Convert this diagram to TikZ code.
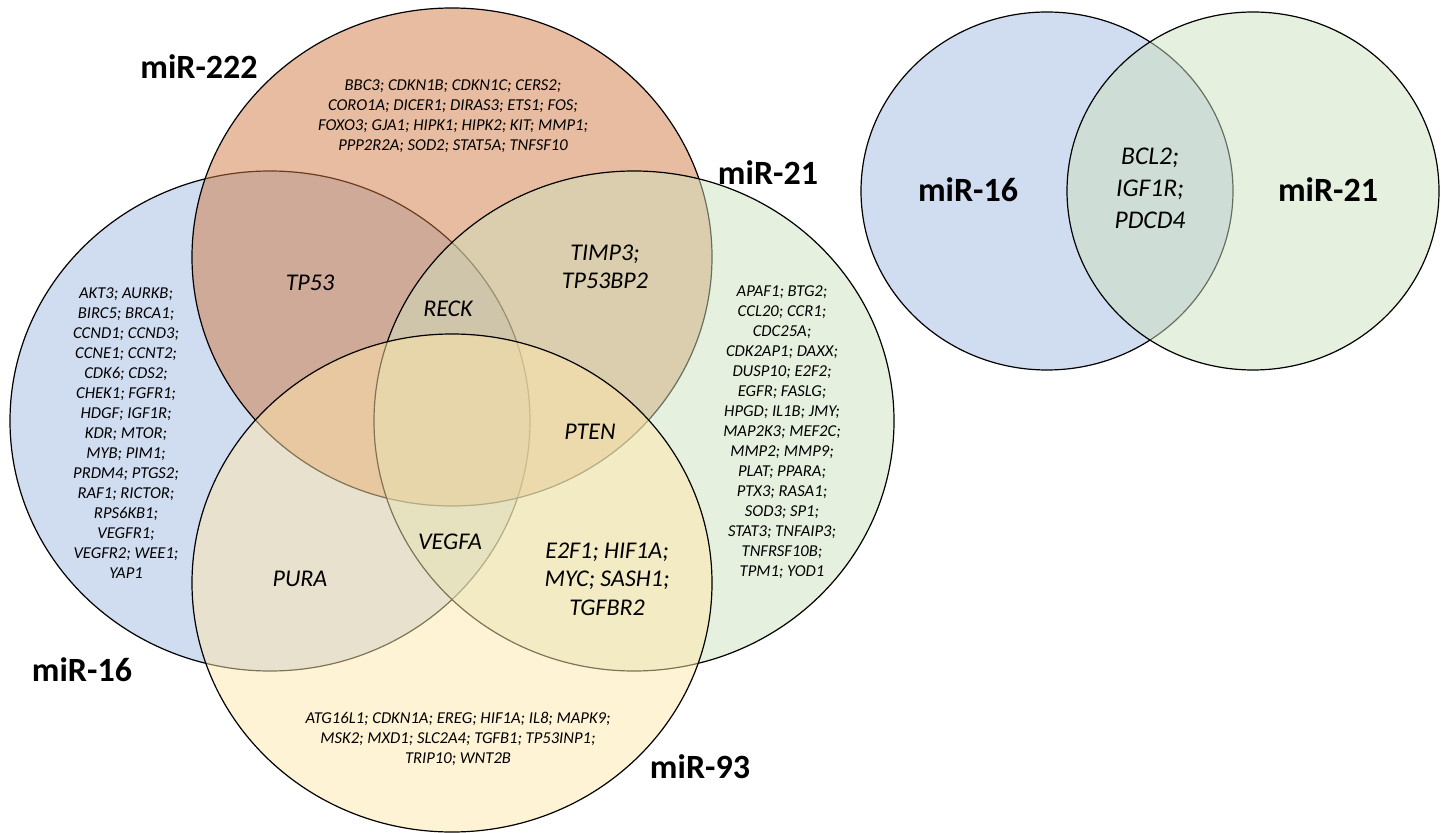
\documentclass[tikz,border=0pt]{standalone}
\usepackage{fontspec}
\setmainfont{Carlito}
\usepackage{xcolor}
\usetikzlibrary{positioning}

\definecolor{setblue}{RGB}{161,185,225}
\definecolor{setorange}{RGB}{209,121,65}
\definecolor{setgreen}{RGB}{205,225,189}
\definecolor{setyellow}{RGB}{255,231,171}

\begin{document}
\begin{tikzpicture}[x=0.5pt, y=-0.5pt,
    vset/.style={draw=black, line width=0.6pt, fill=#1, fill opacity=0.5},
    setlbl/.style={font=\fontsize{17}{20}\selectfont\bfseries, inner sep=0pt},
    genes/.style={font=\fontsize{8.3}{10}\selectfont\itshape, align=center, inner sep=0pt},
    shared/.style={font=\fontsize{12}{14.2}\selectfont\itshape, align=center, inner sep=0pt},
    pairtxt/.style={font=\fontsize{12.75}{16}\selectfont\itshape, align=center, inner sep=0pt}
]
\useasboundingbox (0,0) rectangle (1444,833);

% Four-set diagram
\draw[vset=setblue] (270,421) ellipse [x radius=130pt, y radius=125pt];
\draw[vset=setorange] (452,257) ellipse [x radius=130pt, y radius=124.5pt];
\draw[vset=setgreen] (634,421) ellipse [x radius=130pt, y radius=125pt];
\draw[vset=setyellow] (452,583) ellipse [x radius=130pt, y radius=124.5pt];

\node[setlbl] (l222) at (199,67) {miR-222};
\node[setlbl] (l21) at (768,173) {miR-21};
\node[setlbl] (l16) at (82,670) {miR-16};
\node[setlbl] (l93) at (700,767) {miR-93};

\node[genes] (g222) at (453,116) {BBC3; CDKN1B; CDKN1C; CERS2;\\CORO1A; DICER1; DIRAS3; ETS1; FOS;\\FOXO3; GJA1; HIPK1; HIPK2; KIT; MMP1;\\PPP2R2A; SOD2; STAT5A; TNFSF10};
\node[genes] (g16) at (126,433) {AKT3; AURKB;\\BIRC5; BRCA1;\\CCND1; CCND3;\\CCNE1; CCNT2;\\CDK6; CDS2;\\CHEK1; FGFR1;\\HDGF; IGF1R;\\KDR; MTOR;\\MYB; PIM1;\\PRDM4; PTGS2;\\RAF1; RICTOR;\\RPS6KB1;\\VEGFR1;\\VEGFR2; WEE1;\\YAP1};
\node[genes] (g21) at (782,432) {APAF1; BTG2;\\CCL20; CCR1;\\CDC25A;\\CDK2AP1; DAXX;\\DUSP10; E2F2;\\EGFR; FASLG;\\HPGD; IL1B; JMY;\\MAP2K3; MEF2C;\\MMP2; MMP9;\\PLAT; PPARA;\\PTX3; RASA1;\\SOD3; SP1;\\STAT3; TNFAIP3;\\TNFRSF10B;\\TPM1; YOD1};
\node[genes] (g93) at (458,739) {ATG16L1; CDKN1A; EREG; HIF1A; IL8; MAPK9;\\MSK2; MXD1; SLC2A4; TGFB1; TP53INP1;\\TRIP10; WNT2B};

\node[shared] (tp53) at (310,283) {TP53};
\node[shared] (reck) at (448,309) {RECK};
\node[shared] (timp) at (605,267) {TIMP3;\\TP53BP2};
\node[shared] (pten) at (590,432) {PTEN};
\node[shared] (vegfa) at (450,542) {VEGFA};
\node[shared] (pura) at (300,579) {PURA};
\node[shared] (e2f1) at (607,579) {E2F1; HIF1A;\\MYC; SASH1;\\TGFBR2};

% Two-set diagram
\draw[vset=setblue] (1047,191) ellipse [x radius=93pt, y radius=89.5pt];
\draw[vset=setgreen] (1253,191) ellipse [x radius=93pt, y radius=89.5pt];

\node[setlbl] (r16) at (968,190) {miR-16};
\node[setlbl] (r21) at (1328,190) {miR-21};
\node[pairtxt] (both) at (1150,188) {BCL2;\\IGF1R;\\PDCD4};
\end{tikzpicture}
\end{document}
